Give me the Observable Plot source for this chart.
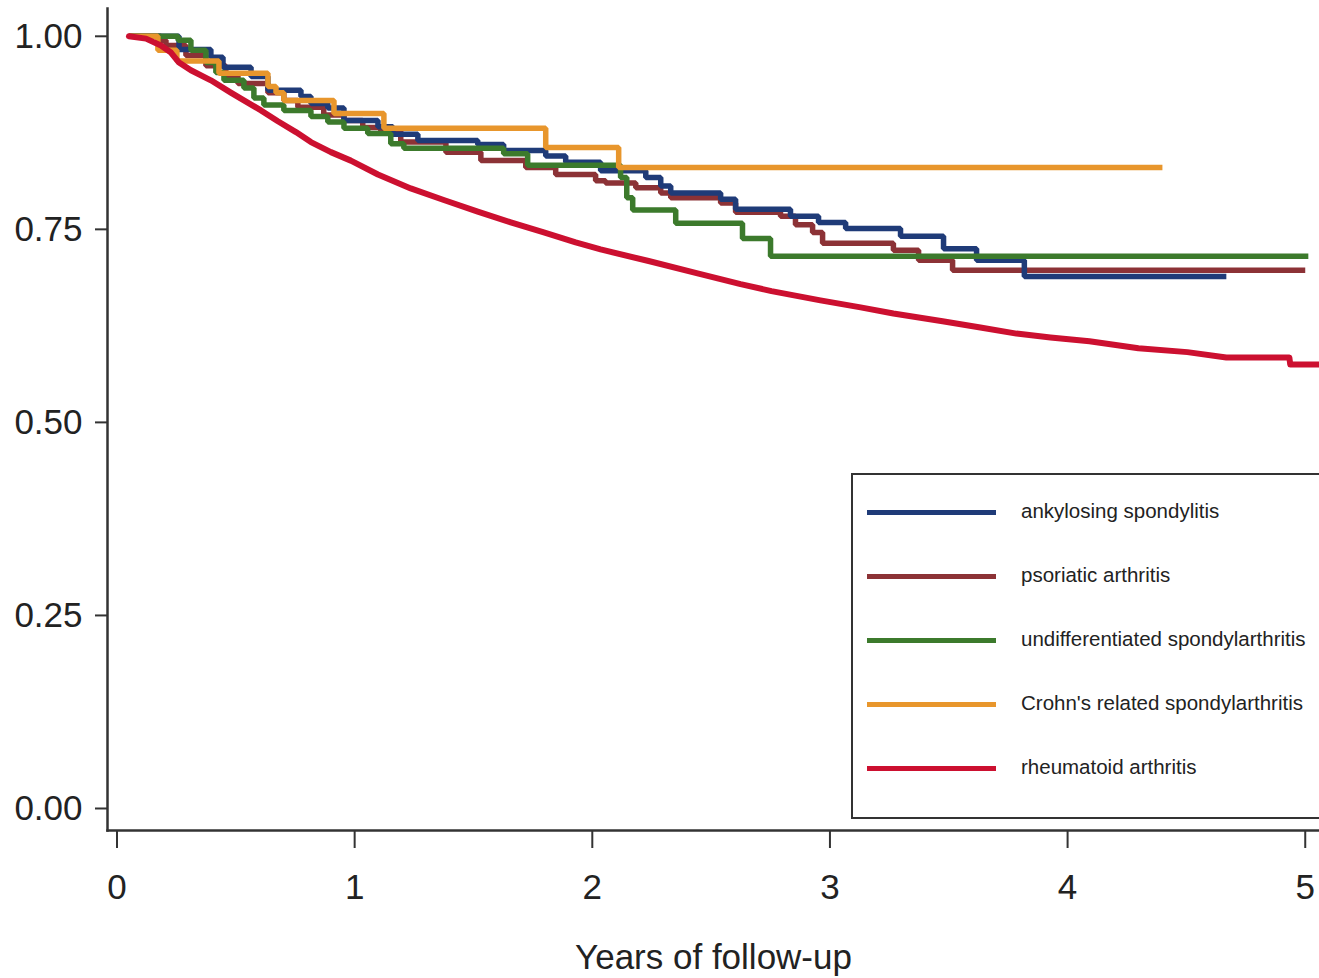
<!DOCTYPE html>
<html>
<head>
<meta charset="utf-8">
<script src="https://cdn.jsdelivr.net/npm/d3@7"></script>
<script src="https://cdn.jsdelivr.net/npm/@observablehq/plot@0.6"></script>
<style>
  html, body { margin: 0; padding: 0; background: #fff; overflow: hidden; }
  #wrap { position: relative; width: 1319px; height: 978px; overflow: hidden; font-family: "Liberation Sans", Arial, sans-serif; }
  #legend { position: absolute; left: 851px; top: 473px; width: 490px; height: 346px; border: 2px solid #333; box-sizing: border-box; background: #fff; }
  .row { position: absolute; left: 0; height: 0; }
  .sw { position: absolute; left: 14px; width: 129px; height: 5px; top: -2.5px; }
  .lb { position: absolute; left: 168px; top: -14px; font-size: 20.5px; line-height: 26px; white-space: nowrap; color: #222; }
</style>
</head>
<body>
<div id="wrap"></div>
<script>
// ---- data ----
const seriesNames = ["ankylosing spondylitis", "psoriatic arthritis", "undifferentiated spondylarthritis", "Crohn's related spondylarthritis", "rheumatoid arthritis"];
const seriesColors = ["#1f3b78", "#8c3236", "#3c7a2c", "#e8962c", "#cc1030"];
const yTicks = [0, 0.25, 0.5, 0.75, 1];
const xTicks = [0, 1, 2, 3, 4, 5];
const xLabel = "Years of follow-up";

// ankylosing spondylitis (step)
const asTime = [0.05, 0.261, 0.395, 0.446, 0.564, 0.635, 0.774, 0.816, 0.887, 0.955, 1.098, 1.161, 1.266, 1.518, 1.627, 1.804, 1.888, 2.035, 2.225, 2.288, 2.330, 2.540, 2.603, 2.834, 2.952, 3.066, 3.297, 3.478, 3.617, 3.818, 4.668];
const asSurv = [1.000, 0.983, 0.973, 0.960, 0.948, 0.930, 0.922, 0.913, 0.907, 0.891, 0.883, 0.873, 0.865, 0.860, 0.852, 0.845, 0.837, 0.826, 0.817, 0.806, 0.797, 0.789, 0.776, 0.767, 0.759, 0.751, 0.741, 0.725, 0.710, 0.689, 0.689];

// psoriatic arthritis (step)
const paTime = [0.05, 0.185, 0.206, 0.290, 0.374, 0.458, 0.509, 0.635, 0.702, 0.761, 0.870, 0.955, 1.034, 1.110, 1.194, 1.384, 1.531, 1.720, 1.846, 2.014, 2.056, 2.183, 2.288, 2.330, 2.540, 2.603, 2.792, 2.855, 2.927, 2.969, 3.267, 3.373, 3.516, 5.000];
const paSurv = [1.000, 0.995, 0.988, 0.975, 0.962, 0.949, 0.939, 0.927, 0.917, 0.908, 0.898, 0.891, 0.882, 0.877, 0.863, 0.850, 0.839, 0.830, 0.821, 0.813, 0.810, 0.804, 0.797, 0.791, 0.784, 0.772, 0.767, 0.756, 0.746, 0.732, 0.723, 0.710, 0.697, 0.697];

// undifferentiated spondylarthritis (step)
const usTime = [0.05, 0.257, 0.311, 0.374, 0.416, 0.450, 0.534, 0.576, 0.618, 0.702, 0.816, 0.887, 0.955, 1.055, 1.152, 1.207, 1.627, 1.728, 2.119, 2.145, 2.170, 2.351, 2.632, 2.750, 5.013];
const usSurv = [1.000, 0.995, 0.982, 0.966, 0.953, 0.943, 0.933, 0.920, 0.911, 0.904, 0.896, 0.889, 0.881, 0.874, 0.861, 0.855, 0.848, 0.833, 0.817, 0.791, 0.775, 0.758, 0.738, 0.715, 0.715];

// Crohn's related spondylarthritis (step)
const crTime = [0.05, 0.172, 0.252, 0.429, 0.635, 0.669, 0.702, 0.913, 1.123, 1.804, 2.111, 4.399];
const crSurv = [1.000, 0.982, 0.968, 0.952, 0.935, 0.927, 0.917, 0.900, 0.881, 0.856, 0.830, 0.830];

// rheumatoid arthritis (many small steps)
const raTime = [0.050, 0.122, 0.185, 0.227, 0.261, 0.311, 0.395, 0.479, 0.534, 0.606, 0.677, 0.753, 0.816, 0.900, 0.984, 1.098, 1.236, 1.375, 1.518, 1.657, 1.796, 1.930, 2.035, 2.237, 2.443, 2.624, 2.754, 2.960, 3.129, 3.267, 3.474, 3.633, 3.785, 3.928, 4.092, 4.298, 4.504, 4.668, 4.933, 4.937, 5.059];
const raSurv = [1.000, 0.997, 0.988, 0.979, 0.966, 0.956, 0.943, 0.927, 0.917, 0.904, 0.890, 0.876, 0.863, 0.850, 0.839, 0.821, 0.803, 0.788, 0.773, 0.759, 0.746, 0.733, 0.724, 0.709, 0.693, 0.679, 0.670, 0.658, 0.649, 0.641, 0.631, 0.623, 0.615, 0.610, 0.605, 0.596, 0.591, 0.584, 0.584, 0.575, 0.575];

// ---- tables ----
function rows(name, ts, ss) { return ts.map((t, i) => ({name, t, s: ss[i]})); }
const stepRows = [
  ...rows(seriesNames[1], paTime, paSurv),
  ...rows(seriesNames[0], asTime, asSurv),
  ...rows(seriesNames[2], usTime, usSurv),
  ...rows(seriesNames[3], crTime, crSurv)
];
const raRows = rows(seriesNames[4], raTime, raSurv);

const font = "'Liberation Sans', Arial, Helvetica, sans-serif";

const chart = Plot.plot({
  width: 1319,
  height: 978,
  marginLeft: 107,
  marginRight: 0,
  marginTop: 8,
  marginBottom: 148,
  style: {fontFamily: font, fontSize: "35px", color: "#222", background: "#fff"},
  x: {domain: [-0.04, 5.06], label: null},
  y: {domain: [-0.0285, 1.036], label: null},
  color: {domain: seriesNames, range: seriesColors},
  marks: [
    Plot.axisY({ticks: yTicks, tickFormat: d => d.toFixed(2), tickSize: 12, tickPadding: 13, label: null, fontSize: 35, strokeWidth: 2, stroke: "#333", fill: "#222"}),
    Plot.axisX({ticks: xTicks, tickFormat: d => String(d), tickSize: 18, tickPadding: 26, fontSize: 35, strokeWidth: 2, stroke: "#333", fill: "#222",
      label: xLabel, labelAnchor: "center", labelOffset: 138, labelArrow: "none"}),
    Plot.line(stepRows, {x: "t", y: "s", z: "name", stroke: "name", curve: "step-after", strokeWidth: 5.5, strokeLinejoin: "miter", strokeLinecap: "butt"}),
    Plot.line(raRows, {x: "t", y: "s", stroke: "name", strokeWidth: 6, strokeLinejoin: "round"}),
    Plot.frame({anchor: "left", stroke: "#333", strokeWidth: 2.5}),
    Plot.frame({anchor: "bottom", stroke: "#333", strokeWidth: 2.5})
  ]
});

const wrap = document.getElementById("wrap");
wrap.appendChild(chart);

// legend (inside plot area, as in the reference)
const legend = document.createElement("div");
legend.id = "legend";
const rowTops = [37, 101, 165, 229, 293];
seriesNames.forEach((name, i) => {
  const r = document.createElement("div");
  r.className = "row";
  r.style.top = rowTops[i] + "px";
  const sw = document.createElement("div");
  sw.className = "sw";
  sw.style.background = seriesColors[i];
  const lb = document.createElement("div");
  lb.className = "lb";
  lb.textContent = name;
  r.appendChild(sw);
  r.appendChild(lb);
  legend.appendChild(r);
});
wrap.appendChild(legend);
</script>
</body>
</html>
